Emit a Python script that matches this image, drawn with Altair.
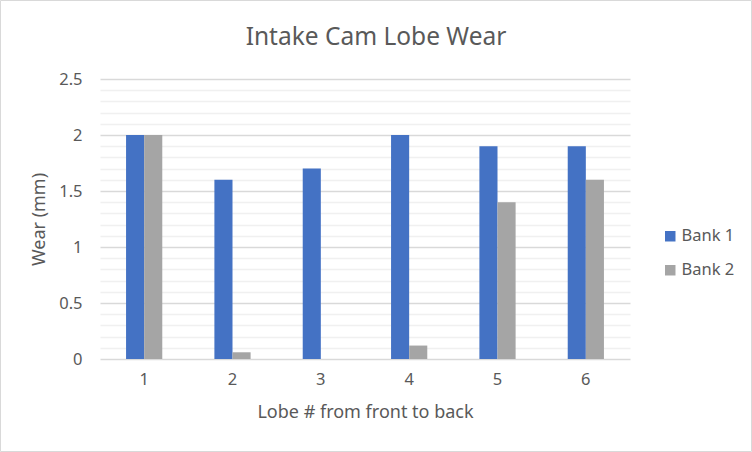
import altair as alt
import pandas as pd

lobes = ["1", "2", "3", "4", "5", "6"]
bank1 = [2.0, 1.6, 1.7, 2.0, 1.9, 1.9]
bank2 = [2.0, 0.06, 0.0, 0.12, 1.4, 1.6]
series = ["Bank 1", "Bank 2"]
colors = ["#4472C4", "#A5A5A5"]
y_ticks = [round(i * 0.1, 1) for i in range(26)]
title_text = "Intake Cam Lobe Wear"

rows = []
for i, lobe in enumerate(lobes):
    rows.append({"lobe": lobe, "bank": series[0], "wear": bank1[i]})
    rows.append({"lobe": lobe, "bank": series[1], "wear": bank2[i]})
df = pd.DataFrame(rows)
one = pd.DataFrame({"t": [title_text]})

FONT = "Noto Sans"
TXT = "#595959"
FS = 16.5

bars = alt.Chart(df).mark_bar().encode(
    x=alt.X("lobe:N", sort=lobes,
            scale=alt.Scale(paddingInner=0.59, paddingOuter=0.295),
            axis=alt.Axis(title="Lobe # from front to back", labelAngle=0,
                          ticks=False, domain=False, labelPadding=12,
                          titlePadding=16, labelColor=TXT, titleColor=TXT,
                          labelFontSize=FS, titleFontSize=18,
                          labelFont=FONT, titleFont=FONT, titleFontWeight="normal")),
    xOffset=alt.XOffset("bank:N", sort=series, scale=alt.Scale(paddingInner=0, paddingOuter=0)),
    y=alt.Y("wear:Q", scale=alt.Scale(domain=[0, 2.5], nice=False),
            axis=alt.Axis(title="Wear (mm)", values=y_ticks, ticks=False, domain=False,
                          labelExpr="abs(datum.value*2 - round(datum.value*2)) < 0.001 ? format(datum.value, '~g') : ''",
                          gridColor={"expr": "abs(datum.value*2 - round(datum.value*2)) < 0.001 ? '#d9d9d9' : '#f0f0f0'"},
                          gridWidth=1.3,
                          labelPadding=18, titlePadding=10, labelColor=TXT, titleColor=TXT,
                          labelFontSize=FS, titleFontSize=18,
                          labelFont=FONT, titleFont=FONT, titleFontWeight="normal")),
    color=alt.Color("bank:N", sort=series, scale=alt.Scale(domain=series, range=colors),
                    legend=alt.Legend(title=None, orient="none", legendX=562, legendY=149,
                                      symbolType="square", symbolSize=110, symbolStrokeWidth=0,
                                      rowPadding=17, labelFontSize=FS, labelColor=TXT,
                                      labelFont=FONT, labelOffset=3)),
)

title = alt.Chart(one).mark_text(font=FONT, fontSize=24.5, fontWeight="normal", color=TXT,
                                 align="center", baseline="middle").encode(
    text="t:N", x=alt.value(276), y=alt.value(-41)
)

border = alt.Chart(one).mark_rect(fill=None, stroke="#d9d9d9", strokeWidth=1).encode(
    x=alt.value(-99.5), x2=alt.value(651.5), y=alt.value(-78.5), y2=alt.value(372.5)
)

chart = alt.layer(bars, title, border).properties(
    width=530, height=280,
    autosize=alt.AutoSizeParams(type="none"),
    padding={"left": 100, "top": 79, "right": 122, "bottom": 93},
    background="white",
).configure_view(stroke=None)

chart.save("out.html", embed_options={"renderer": "svg", "actions": False})
